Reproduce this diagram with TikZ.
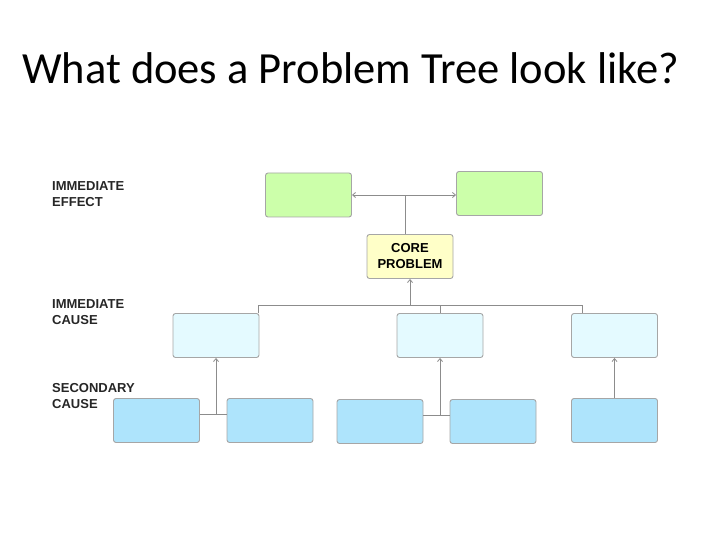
\documentclass[tikz,border=0pt]{standalone}
\usepackage{fontspec}
\setmainfont{Carlito}
\newfontfamily\arial{Liberation Sans}
\usetikzlibrary{arrows.meta}
\begin{document}
\begin{tikzpicture}[x=1pt,y=-1pt,
  bx/.style={draw=black!35,line width=0.9pt,rounded corners=2.5pt,minimum width=86pt,minimum height=44pt,inner sep=0pt,font=\arial\bfseries\fontsize{13}{16}\selectfont,align=center},
  eff/.style={bx,fill={rgb,255:red,204;green,255;blue,170}},
  imc/.style={bx,fill={rgb,255:red,228;green,250;blue,255}},
  sec/.style={bx,fill={rgb,255:red,174;green,228;blue,252}},
  core/.style={bx,fill={rgb,255:red,255;green,255;blue,200}},
  ln/.style={draw=black!45,line width=0.8pt},
  ar/.style={ln,-{Straight Barb[length=3pt,width=5pt]}},
  lab/.style={anchor=north west,inner sep=0pt,align=left,font=\arial\bfseries\fontsize{13}{16}\selectfont,text=black!85}]
\useasboundingbox (0,0) rectangle (720,540);
\node[anchor=west,inner sep=0pt,font=\fontsize{44.5}{48}\selectfont] (title) at (22,68) {What does a Problem Tree look like?};
\node[lab] (l1) at (52,181) {IMMEDIATE\\EFFECT};
\node[lab] (l2) at (52,299) {IMMEDIATE\\CAUSE};
\node[lab] (l3) at (52,383) {SECONDARY\\CAUSE};
\node[eff] (e1) at (308.5,195) {};
\node[eff] (e2) at (499.5,193.5) {};
\node[core] (c) at (410,256.5) {CORE\\PROBLEM};
\node[imc] (i1) at (216,335.5) {};
\node[imc] (i2) at (440,335.5) {};
\node[imc] (i3) at (614.5,335.5) {};
\node[sec] (s1) at (156.5,420.5) {};
\node[sec] (s2) at (270,420.5) {};
\node[sec] (s3) at (380,421.5) {};
\node[sec] (s4) at (493,421.5) {};
\node[sec] (s5) at (614.5,420.5) {};
\coordinate (et) at (405,195);
\coordinate (hb) at (410,305);
\draw[ln] (c.north -| et) -- (et);
\draw[ar] (et) -- (e1.east);
\draw[ar] (et) -- (e2.west |- et);
\draw[ar] (hb) -- (c.south);
\draw[ln] (i1.north -| 258,0) -- (258,305) -- (582,305) -- (i3.north -| 582,0);
\draw[ln] (440,305) -- (i2.north);
\coordinate (g1) at (216,414);
\coordinate (g2) at (440,415);
\draw[ln] (s1.east |- g1) -- (s2.west |- g1);
\draw[ar] (g1) -- (i1.south);
\draw[ln] (s3.east |- g2) -- (s4.west |- g2);
\draw[ar] (g2) -- (i2.south);
\draw[ar] (s5.north) -- (i3.south);
\end{tikzpicture}
\end{document}
